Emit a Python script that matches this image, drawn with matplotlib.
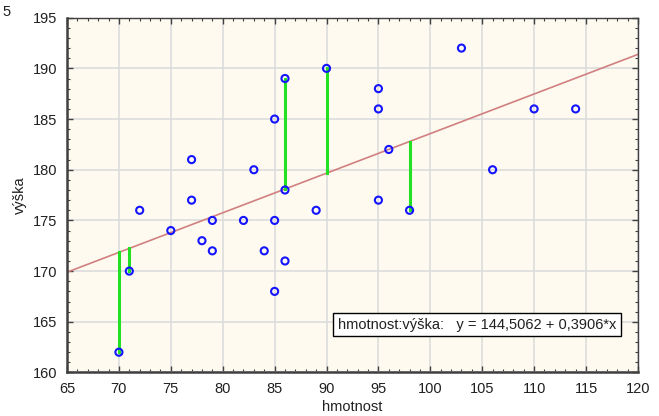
import numpy as np
import matplotlib.pyplot as plt
from matplotlib.ticker import MultipleLocator

# hmotnost (kg) a výška (cm)
hmotnost = [70, 71, 72, 75, 77, 77, 78, 79, 79, 82, 83, 84, 85, 85, 85,
            86, 86, 86, 89, 90, 95, 95, 95, 96, 98, 103, 106, 110, 114]
vyska = [162, 170, 176, 174, 181, 177, 173, 175, 172, 175, 180, 172, 185, 175, 168,
         189, 178, 171, 176, 190, 188, 186, 177, 182, 176, 192, 180, 186, 186]

# regresni primka
intercept = 144.5062
slope = 0.3906

# vybrana rezidua (zelene usecky)
res_x = [70, 71, 86, 90, 98]
res_y = [162, 170, 189, 190, 176]

plt.rcParams['font.family'] = ['Liberation Sans', 'DejaVu Sans']
FS = 10.5

fig = plt.figure(figsize=(6.59, 4.16), dpi=100)
ax = fig.add_axes([0.1017, 0.1046, 0.8663, 0.8529])
ax.set_facecolor('#fefaf0')

ax.set_xlim(65, 120)
ax.set_ylim(160, 195)
ax.xaxis.set_major_locator(MultipleLocator(5))
ax.xaxis.set_minor_locator(MultipleLocator(1))
ax.yaxis.set_major_locator(MultipleLocator(5))
ax.yaxis.set_minor_locator(MultipleLocator(1))
ax.grid(True, which='major', color='#dcdcdc', linewidth=1.2, zorder=0)
ax.set_axisbelow(True)

ax.tick_params(which='both', direction='in', top=True, right=True,
               color='#404040', labelsize=FS, labelcolor='#202020')
ax.tick_params(which='major', length=4, width=1, pad=7)
ax.tick_params(which='minor', length=2.5, width=0.8)

for side, sp in ax.spines.items():
    sp.set_color('#404040')
    sp.set_linewidth(1.8 if side in ('left', 'bottom') else 1.0)

# regresni primka pres celou osu x
xl = np.array(ax.get_xlim())
ax.plot(xl, intercept + slope * xl, color='#d08080', linewidth=1.2, zorder=2)

# rezidua
for x0, y0 in zip(res_x, res_y):
    ax.plot([x0, x0], [y0, intercept + slope * x0], color='#22e022',
            linewidth=2.2, zorder=3)

ax.scatter(hmotnost, vyska, s=26, facecolors='none', edgecolors='#1414ff',
           linewidths=1.5, zorder=4)

ax.text(0.962, 0.135, 'hmotnost:výška:   y = 144,5062 + 0,3906*x',
        transform=ax.transAxes, ha='right', va='center', fontsize=FS,
        color='#202020',
        bbox=dict(boxstyle='square,pad=0.3', facecolor='white',
                  edgecolor='black', linewidth=1.0), zorder=5)

ax.set_xlabel('hmotnost', fontsize=FS, color='#202020', labelpad=3)
ax.set_ylabel('výška', fontsize=FS, color='#202020', labelpad=4)

fig.text(0.003, 0.97, '5', fontsize=FS, color='#202020', ha='left', va='center')

fig.savefig('out.png', dpi=100, facecolor='white')
